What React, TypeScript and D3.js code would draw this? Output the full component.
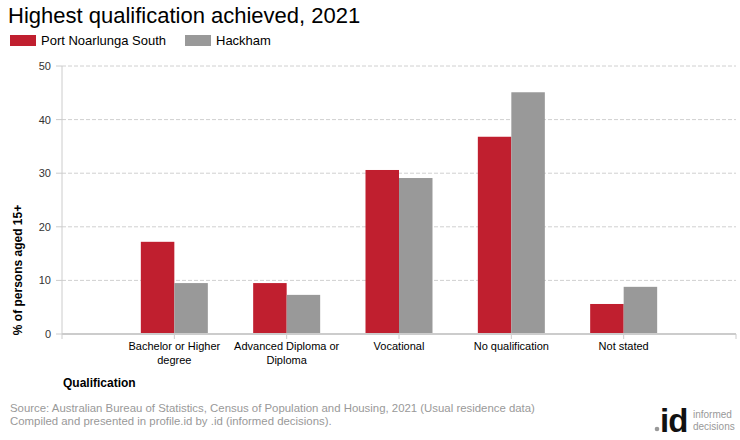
import React from "react";
import * as d3 from "d3";

const categories = [
  ["Bachelor or Higher", "degree"],
  ["Advanced Diploma or", "Diploma"],
  ["Vocational"],
  ["No qualification"],
  ["Not stated"],
];
const seriesNames = ["Port Noarlunga South", "Hackham"];
const portNoarlungaSouth = [17.2, 9.5, 30.6, 36.8, 5.6];
const hackham = [9.5, 7.3, 29.1, 45.1, 8.8];
const yTicks = [0, 10, 20, 30, 40, 50];
const colors = ["#c01f2f", "#999999"];

export default function App() {
  const W = 740, H = 440;
  const left = 62, right = 736, top = 66, bottom = 334;
  const x = d3.scaleLinear().domain([0, categories.length + 1]).range([left, right]);
  const y = d3.scaleLinear().domain([0, 50]).range([bottom, top]);
  const barW = 33.5;
  const series = [portNoarlungaSouth, hackham];
  const font = "Arial, 'Liberation Sans', sans-serif";
  const xTicks = d3.range(0, categories.length + 2);

  return (
    <svg width={W} height={H} style={{ position: "absolute", left: 0, top: 0, fontFamily: font }}>
      <rect width={W} height={H} fill="#fff" />
      <text x={8} y={23} fontSize={22} fill="#000">Highest qualification achieved, 2021</text>
      {seriesNames.map((n, i) => {
        const lx = i === 0 ? 10 : 185;
        return (
          <g key={n}>
            <rect x={lx} y={35} width={26} height={11} fill={colors[i]} />
            <text x={lx + 31} y={45} fontSize={13} fill="#000">{n}</text>
          </g>
        );
      })}
      {yTicks.map((t) => (
        <g key={t}>
          {t > 0 && (
            <line x1={left} x2={right} y1={y(t)} y2={y(t)} stroke="#d0d0d0" strokeDasharray="4,2" strokeWidth={1} />
          )}
          <line x1={left - 6} x2={left} y1={y(t)} y2={y(t)} stroke="#ccc" />
          <text x={51} y={y(t) + 4} fontSize={11} textAnchor="end" fill="#333">{t}</text>
        </g>
      ))}
      <line x1={left} x2={left} y1={top} y2={bottom} stroke="#ccc" strokeWidth={1} />
      {categories.map((c, i) => (
        <g key={i}>
          {series.map((s, j) => (
            <rect
              key={j}
              x={x(i + 1) - barW + j * barW}
              y={y(s[i])}
              width={barW}
              height={bottom - y(s[i])}
              fill={colors[j]}
            />
          ))}
        </g>
      ))}
      <line x1={left} x2={right} y1={bottom} y2={bottom} stroke="#ccc" strokeWidth={2} />
      {xTicks.map((t) => (
        <line key={t} x1={x(t)} x2={x(t)} y1={bottom} y2={bottom + 5} stroke="#ccc" />
      ))}
      {categories.map((c, i) => (
        <text key={i} x={x(i + 1)} y={350} fontSize={11} textAnchor="middle" fill="#000">
          {c.map((l, k) => (
            <tspan key={k} x={x(i + 1)} dy={k === 0 ? 0 : 13.5}>{l}</tspan>
          ))}
        </text>
      ))}
      <text x={63} y={387} fontSize={12} fontWeight="bold" fill="#000">Qualification</text>
      <text transform={`translate(22,${270}) rotate(-90)`} fontSize={12} fontWeight="bold" textAnchor="middle" fill="#000">
        % of persons aged 15+
      </text>
      <text x={10} y={412} fontSize={11.4} fill="#999">
        Source: Australian Bureau of Statistics, Census of Population and Housing, 2021 (Usual residence data)
      </text>
      <text x={10} y={425} fontSize={11.4} fill="#999">
        Compiled and presented in profile.id by .id (informed decisions).
      </text>
      <g>
        <circle cx={657} cy={429} r={2.3} fill="#999" />
        <text x={660} y={432} fontSize={33} fontWeight="bold" fill="#111" letterSpacing={-1}>id</text>
        <text x={693} y={418} fontSize={10} fill="#999">informed</text>
        <text x={693} y={430} fontSize={10} fill="#999">decisions</text>
      </g>
    </svg>
  );
}
